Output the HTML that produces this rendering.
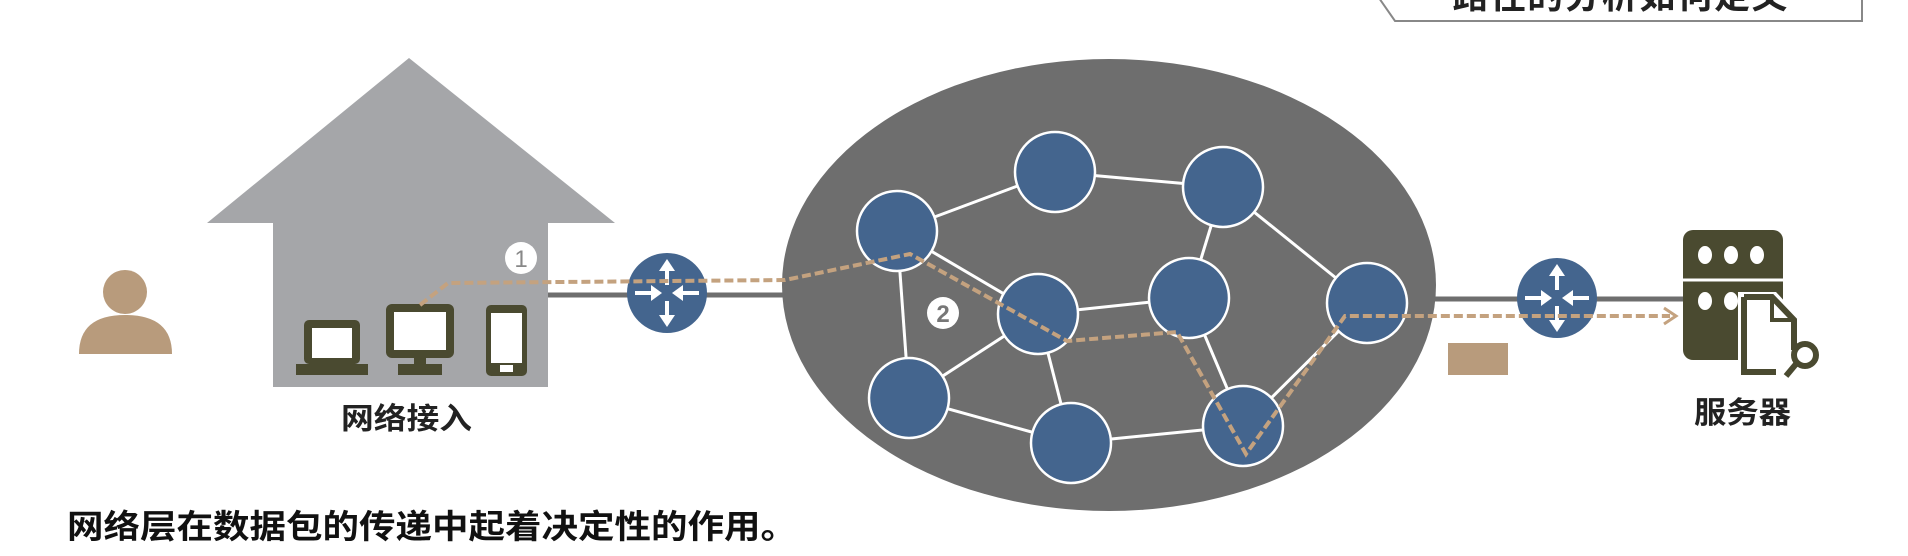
<!DOCTYPE html>
<html><head><meta charset="utf-8"><style>html,body{margin:0;padding:0;background:#fff;}svg{display:block}</style></head>
<body>
<svg width="1908" height="556" viewBox="0 0 1908 556" xmlns="http://www.w3.org/2000/svg" font-family="'Liberation Sans','Noto Sans CJK SC',sans-serif">
<defs>
<g id="router">
<circle r="40" fill="#44658e"/>
<g fill="#fff" stroke="#fff" stroke-width="4">
<line x1="0" y1="-8" x2="0" y2="-24"/><polygon points="-8,-22 8,-22 0,-34" stroke="none"/>
<line x1="0" y1="8" x2="0" y2="24"/><polygon points="-8,22 8,22 0,34" stroke="none"/>
<line x1="-32" y1="0" x2="-14" y2="0"/><polygon points="-16,-8 -16,8 -5,0" stroke="none"/>
<line x1="32" y1="0" x2="14" y2="0"/><polygon points="16,-8 16,8 5,0" stroke="none"/>
</g>
</g>
</defs>
<!-- top right box -->
<polygon points="1379,-2 1395,21 1862,21 1862,-2" fill="#fff" stroke="#888" stroke-width="2"/>
<text x="1620" y="8" font-size="36" font-weight="bold" text-anchor="middle" textLength="335" fill="#222">路径的分析如何定义</text>
<rect x="1370" y="-40" width="500" height="37" fill="#fff"/>
<!-- person -->
<circle cx="125" cy="292" r="22" fill="#b89b7c"/>
<path d="M79,354 Q79,315 125,315 Q172,315 172,354 Z" fill="#b89b7c"/>
<!-- house -->
<polygon points="409,58 615,223 207,223" fill="#a5a6a9"/>
<rect x="273" y="222" width="275" height="165" fill="#a5a6a9"/>
<!-- laptop -->
<rect x="304" y="320" width="56" height="44" rx="5" fill="#4a4a30"/>
<rect x="312" y="328" width="40" height="30" fill="#fff"/>
<rect x="296" y="364" width="72" height="11" fill="#4a4a30"/>
<!-- monitor -->
<rect x="386" y="304" width="68" height="54" rx="6" fill="#4a4a30"/>
<rect x="394" y="312" width="52" height="38" fill="#fff"/>
<rect x="414" y="356" width="12" height="10" fill="#4a4a30"/>
<rect x="398" y="364" width="44" height="11" fill="#4a4a30"/>
<!-- phone -->
<rect x="486" y="305" width="41" height="71" rx="5" fill="#4a4a30"/>
<rect x="491" y="313" width="31" height="50" fill="#fff"/>
<rect x="500" y="365" width="13" height="7" fill="#fff"/>
<text x="341" y="429" font-size="30" font-weight="bold" textLength="131" lengthAdjust="spacingAndGlyphs" fill="#222">网络接入</text>
<!-- lines -->
<line x1="548" y1="295" x2="790" y2="295" stroke="#6e6e6e" stroke-width="5"/>
<line x1="1430" y1="299" x2="1683" y2="299" stroke="#6e6e6e" stroke-width="5"/>
<use href="#router" x="667" y="293"/>
<use href="#router" x="1557" y="298"/>
<!-- ellipse -->
<ellipse cx="1109" cy="285" rx="327" ry="226" fill="#6e6e6e"/>
<g stroke="#fff" stroke-width="3">
<line x1="897" y1="231" x2="1055" y2="172"/>
<line x1="1055" y1="172" x2="1223" y2="187"/>
<line x1="1223" y1="187" x2="1189" y2="298"/>
<line x1="1223" y1="187" x2="1367" y2="303"/>
<line x1="897" y1="231" x2="1038" y2="314"/>
<line x1="897" y1="231" x2="909" y2="398"/>
<line x1="1038" y1="314" x2="909" y2="398"/>
<line x1="1038" y1="314" x2="1189" y2="298"/>
<line x1="1038" y1="314" x2="1071" y2="443"/>
<line x1="909" y1="398" x2="1071" y2="443"/>
<line x1="1071" y1="443" x2="1243" y2="426"/>
<line x1="1189" y1="298" x2="1243" y2="426"/>
<line x1="1367" y1="303" x2="1243" y2="426"/>
</g>
<g fill="#44658e" stroke="#fff" stroke-width="2.5">
<circle cx="897" cy="231" r="40"/><circle cx="1055" cy="172" r="40"/><circle cx="1223" cy="187" r="40"/>
<circle cx="1038" cy="314" r="40"/><circle cx="1189" cy="298" r="40"/><circle cx="1367" cy="303" r="40"/>
<circle cx="909" cy="398" r="40"/><circle cx="1071" cy="443" r="40"/><circle cx="1243" cy="426" r="40"/>
</g>
<!-- dashed path -->
<polyline points="420,305 448,283 785,280 910,254 1067,341 1177,332 1246,454 1345,316 1670,316" fill="none" stroke="#c4a27f" stroke-width="4" stroke-dasharray="9,4"/>
<polyline points="1664,308 1676,316 1664,324" fill="none" stroke="#c4a27f" stroke-width="3"/>
<!-- numbered circles -->
<circle cx="521" cy="258" r="16" fill="#fff"/>
<text x="521" y="267" font-size="24" text-anchor="middle" fill="#888">1</text>
<circle cx="943" cy="313" r="16" fill="#fff"/>
<text x="943" y="322" font-size="24" font-weight="bold" text-anchor="middle" fill="#777">2</text>
<rect x="1448" y="343" width="60" height="32" fill="#b89b7c"/>
<!-- server -->
<rect x="1683" y="230" width="100" height="130" rx="10" fill="#4a4a30"/>
<line x1="1683" y1="280" x2="1783" y2="280" stroke="#fff" stroke-width="3"/>
<g fill="#fff"><ellipse cx="1705" cy="255" rx="7" ry="9"/><ellipse cx="1731" cy="255" rx="7" ry="9"/><ellipse cx="1757" cy="255" rx="7" ry="9"/>
<ellipse cx="1705" cy="301" rx="7" ry="9"/><ellipse cx="1731" cy="301" rx="7" ry="9"/></g>
<path d="M1738,292 L1776,292 L1800,318 L1800,374 L1738,374 Z" fill="#fff"/>
<path d="M1744,297 L1772,297 L1794,320 L1794,350 M1776,372 L1744,372 L1744,297" fill="none" stroke="#4a4a30" stroke-width="6"/>
<path d="M1772,297 L1772,320 L1794,320" fill="none" stroke="#4a4a30" stroke-width="4"/>
<circle cx="1805" cy="355" r="11" fill="#fff" stroke="#4a4a30" stroke-width="6"/>
<line x1="1796" y1="364" x2="1786" y2="376" stroke="#4a4a30" stroke-width="6"/>
<text x="1694" y="423" font-size="30" font-weight="bold" textLength="97" lengthAdjust="spacingAndGlyphs" fill="#222">服务器</text>
<!-- caption -->
<text x="67" y="538" font-size="33" font-weight="bold" textLength="730" lengthAdjust="spacingAndGlyphs" fill="#111">网络层在数据包的传递中起着决定性的作用。</text>
</svg>
</body></html>
